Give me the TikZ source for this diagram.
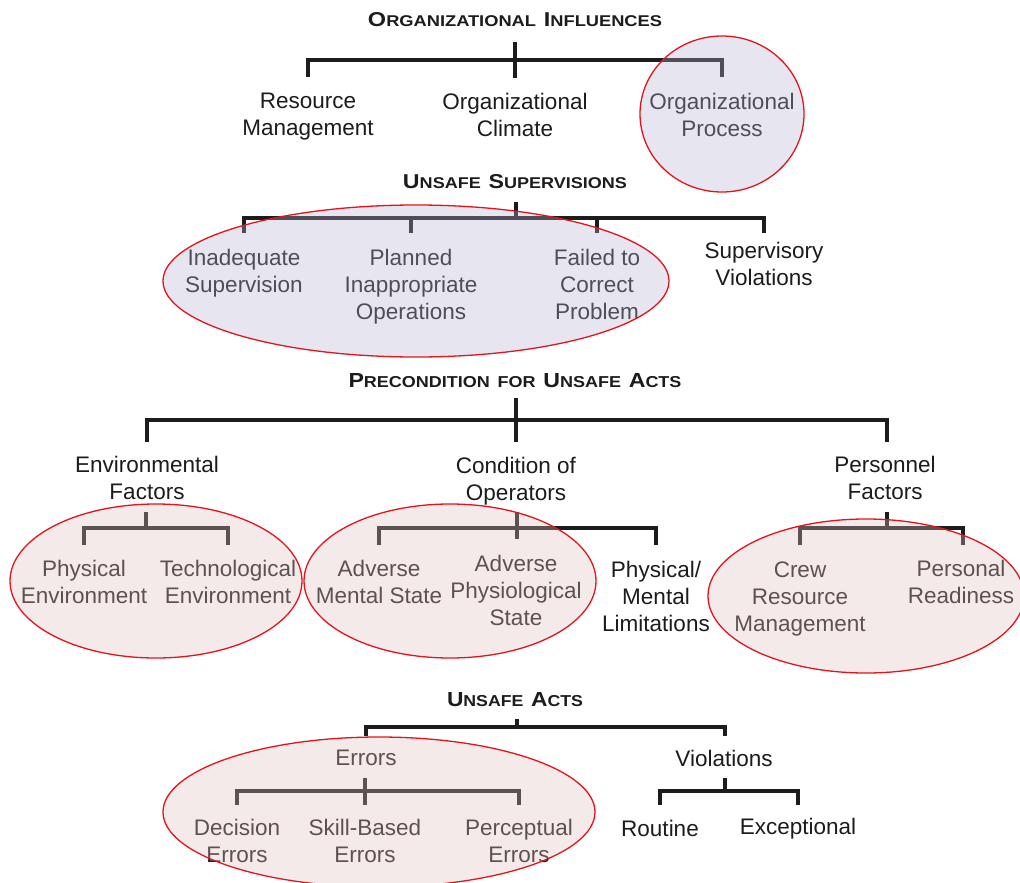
\documentclass[tikz,border=0pt]{standalone}
\usepackage{fontspec}
\setmainfont{Liberation Sans}
\usepackage{graphicx}
\definecolor{ink}{HTML}{1C1C1C}
\definecolor{lav}{RGB}{185,178,209}
\definecolor{pnk}{RGB}{227,192,192}
\definecolor{ered}{HTML}{E3141B}
\newcommand\bigc[1]{{\fontsize{18}{20}\selectfont #1}}
\newcommand\smc[1]{{\fontsize{14}{16}\selectfont #1}}
\newcommand\wsp{\hspace{6pt}}
\newcommand\ttlbox[2]{\resizebox{#1pt}{14pt}{\bfseries #2}}
\tikzset{
  lbl/.style={align=center, text=ink, font=\fontsize{22.5}{27}\selectfont, inner sep=0pt},
  ttl/.style={text=ink, inner sep=0pt},
  tree/.style={draw=ink, line width=3.2pt, line join=miter},
  lavell/.style={fill=lav, fill opacity=0.33, draw=ered, draw opacity=1, line width=1.3pt},
  pnkell/.style={fill=pnk, fill opacity=0.33, draw=ered, draw opacity=1, line width=1.3pt}
}
\begin{document}
\begin{tikzpicture}[x=1pt,y=-1pt]
\useasboundingbox (0,0) rectangle (1020,883);
\fill[white] (0,0) rectangle (1020,883);

% ---------- titles ----------
\node[ttl] (t1) at (515,20) {\ttlbox{294}{\bigc{O}\smc{RGANIZATIONAL}\wsp\bigc{I}\smc{NFLUENCES}}};
\node[ttl] (t2) at (515,182) {\ttlbox{224}{\bigc{U}\smc{NSAFE}\wsp\bigc{S}\smc{UPERVISIONS}}};
\node[ttl] (t3) at (515,381) {\ttlbox{333}{\bigc{P}\smc{RECONDITION}\wsp\smc{FOR}\wsp\bigc{U}\smc{NSAFE}\wsp\bigc{A}\smc{CTS}}};
\node[ttl] (t4) at (515,700) {\ttlbox{136}{\bigc{U}\smc{NSAFE}\wsp\bigc{A}\smc{CTS}}};

% ---------- level 1 ----------
\node[lbl] (rm) at (308,117) {Resource\\Management};
\node[lbl] (oc) at (515,115) {Organizational\\Climate};
\node[lbl] (op) at (722,115) {Organizational\\Process};

% ---------- level 2 ----------
\node[lbl] (is) at (244,273) {Inadequate\\Supervision};
\node[lbl] (pio) at (411,287) {Planned\\Inappropriate\\Operations};
\node[lbl] (fc) at (597,284) {Failed to\\Correct\\Problem};
\node[lbl] (sv) at (764,264) {Supervisory\\Violations};

% ---------- level 3 ----------
\node[lbl] (ef) at (147,478) {Environmental\\Factors};
\node[lbl] (co) at (516,481) {Condition of\\Operators};
\node[lbl] (pf) at (885,478) {Personnel\\Factors};
\node[lbl] (pe) at (84,582) {Physical\\Environment};
\node[lbl] (te) at (228,582) {Technological\\Environment};
\node[lbl] (am) at (379,582) {Adverse\\Mental State};
\node[lbl] (ap) at (516,590) {Adverse\\Physiological\\State};
\node[lbl] (pm) at (656,596) {Physical/\\Mental\\Limitations};
\node[lbl] (cr) at (800,599) {Crew\\Resource\\Management};
\node[lbl] (pr) at (961,582) {Personal\\Readiness};

% ---------- level 4 ----------
\node[lbl] (er) at (366,758) {Errors};
\node[lbl] (vi) at (724,758) {Violations};
\node[lbl] (de) at (237,841) {Decision\\Errors};
\node[lbl] (sb) at (365,841) {Skill-Based\\Errors};
\node[lbl] (pce) at (519,841) {Perceptual\\Errors};
\node[lbl] (ro) at (660,828) {Routine};
\node[lbl] (ex) at (798,829) {Exceptional};

% ---------- bar junctions ----------
\coordinate (b1) at (515,60);
\coordinate (b2) at (516,218);
\coordinate (b3) at (516,420);
\coordinate (be) at (146,528);
\coordinate (bc) at (517,528);
\coordinate (bp) at (887,528);
\coordinate (b4) at (517,727);
\coordinate (bE) at (365,791);
\coordinate (bV) at (725,791);

% ---------- connectors ----------
\draw[tree] (b1) ++(0,-18) -- ++(0,36);
\draw[tree] (rm |- b1) ++(0,17) -- (rm |- b1) -- (op |- b1) -- ++(0,17);

\draw[tree] (b2) ++(0,-16) -- (b2);
\draw[tree] (is |- b2) ++(0,15) -- (is |- b2) -- (sv |- b2) -- ++(0,15);
\draw[tree] (pio |- b2) -- ++(0,15);
\draw[tree] (fc |- b2) -- ++(0,15);

\draw[tree] (b3) ++(0,-22) -- ++(0,44);
\draw[tree] (ef |- b3) ++(0,22) -- (ef |- b3) -- ([xshift=2pt]pf |- b3) -- ++(0,22);

\draw[tree] (be) ++(0,-16) -- (be);
\draw[tree] (pe |- be) ++(0,17) -- (pe |- be) -- (te |- be) -- ++(0,17);

\draw[tree] (bc) ++(0,-16) -- ++(0,27);
\draw[tree] (am |- bc) ++(0,17) -- (am |- bc) -- (pm |- bc) -- ++(0,17);

\draw[tree] (bp) ++(0,-16) -- (bp);
\draw[tree] (cr |- bp) ++(0,17) -- (cr |- bp) -- ([xshift=2pt]pr |- bp) -- ++(0,17);

\draw[tree] (b4) ++(0,-8) -- (b4);
\draw[tree] (er |- b4) ++(0,9) -- (er |- b4) -- ([xshift=1pt]vi |- b4) -- ++(0,9);

\draw[tree] (bE) ++(0,-13) -- ++(0,27);
\draw[tree] (de |- bE) ++(0,14) -- (de |- bE) -- (pce |- bE) -- ++(0,14);

\draw[tree] (bV) ++(0,-13) -- (bV);
\draw[tree] (ro |- bV) ++(0,14) -- (ro |- bV) -- (ex |- bV) -- ++(0,14);

% ---------- highlight ellipses ----------
\path[lavell] (722,114) ellipse [x radius=82, y radius=78];
\path[lavell] (416,281) ellipse [x radius=253, y radius=76];
\path[pnkell] (156,581) ellipse [x radius=146, y radius=77];
\path[pnkell] (450,581) ellipse [x radius=146, y radius=77];
\path[pnkell] (866,596) ellipse [x radius=158, y radius=77];
\path[pnkell] (379,812) ellipse [x radius=216, y radius=75];
\end{tikzpicture}
\end{document}
